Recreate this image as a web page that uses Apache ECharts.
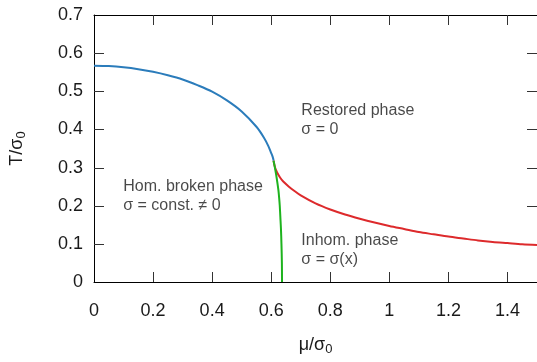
<!DOCTYPE html>
<html>
<head>
<meta charset="utf-8">
<script src="https://cdn.jsdelivr.net/npm/echarts@6/dist/echarts.min.js"></script>
<style>
  html, body { margin: 0; padding: 0; background: #fff; }
  #chart { width: 537px; height: 362px; }
</style>
</head>
<body>
<div id="chart"></div>
<script>
// phase boundaries: [mu/sigma0, T/sigma0]
var secondOrderLine = [
  [0, 0.567], [0.05, 0.566], [0.1, 0.563], [0.15, 0.558], [0.2, 0.551],
  [0.25, 0.542], [0.3, 0.531], [0.35, 0.516], [0.4, 0.499], [0.45, 0.476],
  [0.5, 0.447], [0.55, 0.407], [0.575, 0.379], [0.59, 0.357], [0.6, 0.338],
  [0.605, 0.328], [0.608, 0.318]
];
var inhomRestoredLine = [
  [0.608, 0.318], [0.613, 0.300], [0.62, 0.287], [0.63, 0.274], [0.64, 0.264],
  [0.66, 0.250], [0.68, 0.238], [0.7, 0.227], [0.75, 0.206], [0.8, 0.190],
  [0.85, 0.177], [0.9, 0.166], [0.95, 0.156], [1.0, 0.147], [1.05, 0.139],
  [1.1, 0.131], [1.15, 0.125], [1.2, 0.119], [1.25, 0.114], [1.3, 0.109],
  [1.35, 0.105], [1.4, 0.102], [1.45, 0.099], [1.5, 0.097]
];
var lifshitzLine = [
  [0.608, 0.318], [0.6125, 0.300], [0.617, 0.280], [0.621, 0.260],
  [0.6245, 0.240], [0.627, 0.220], [0.629, 0.200], [0.631, 0.170],
  [0.633, 0.140], [0.6347, 0.100], [0.6362, 0.050], [0.6366, 0.0]
];

// inward tick marks on all four sides of the frame
var xTicks = [0.2, 0.4, 0.6, 0.8, 1.0, 1.2, 1.4];
var yTicks = [0.1, 0.2, 0.3, 0.4, 0.5, 0.6];
var xMin = 0, xMax = 1.5, yMin = 0, yMax = 0.7;

var phaseNames = ['Restored phase\nσ = 0', 'Hom. broken phase\nσ = const. ≠ 0', 'Inhom. phase\nσ = σ(x)'];
var phaseAt = [[0.702, 0.424], [0.099, 0.224], [0.702, 0.0845]];

var font = 'Liberation Sans, Arial, Helvetica, sans-serif';
var ink = '#1a1a1a';

var chart = echarts.init(document.getElementById('chart'));

function lineSeries(data, color) {
  return {
    type: 'line',
    data: data,
    showSymbol: false,
    smooth: 0.3,
    lineStyle: { color: color, width: 2 },
    z: 3
  };
}

function nameStyle() {
  return {
    fontFamily: font, fontSize: 18, color: ink,
    rich: { sub: { fontFamily: font, fontSize: 13, color: ink, padding: [9, 0, 0, 0] } }
  };
}

var TICK = 10;
function tickLine(x1, y1, x2, y2) {
  return { type: 'line', shape: { x1: x1, y1: y1, x2: x2, y2: y2 }, style: { stroke: '#333', lineWidth: 1 } };
}

var series = [
  lineSeries(secondOrderLine, '#2b7cbb'),
  lineSeries(inhomRestoredLine, '#dd2a2c'),
  lineSeries(lifshitzLine, '#1eb31e'),
  {
    // bottom + top ticks
    type: 'custom',
    clip: false,
    silent: true,
    data: xTicks.map(function (v) { return [v, yMin]; }),
    renderItem: function (params, api) {
      var v = api.value(0);
      var b = api.coord([v, yMin]);
      var t = api.coord([v, yMax]);
      var x = Math.round(b[0]) + 0.5;
      return { type: 'group', children: [
        tickLine(x, b[1], x, b[1] - TICK),
        tickLine(x, t[1], x, t[1] + TICK)
      ] };
    }
  },
  {
    // left + right ticks
    type: 'custom',
    clip: false,
    silent: true,
    data: yTicks.map(function (v) { return [xMin, v]; }),
    renderItem: function (params, api) {
      var v = api.value(1);
      var l = api.coord([xMin, v]);
      var r = api.coord([xMax, v]);
      var y = Math.round(l[1]) + 0.5;
      return { type: 'group', children: [
        tickLine(l[0], y, l[0] + TICK, y),
        tickLine(r[0], y, r[0] - TICK, y)
      ] };
    }
  }
];

phaseNames.forEach(function (txt, i) {
  series.push({
    type: 'scatter',
    data: [phaseAt[i]],
    symbolSize: 0,
    silent: true,
    label: {
      show: true,
      position: 'right',
      distance: 0,
      formatter: txt,
      fontFamily: font,
      fontSize: 16,
      lineHeight: 19,
      color: ink
    }
  });
});

chart.setOption({
  animation: false,
  grid: { left: 93, right: -1, top: 15, bottom: 80 },
  xAxis: [{
    type: 'value',
    min: xMin, max: xMax, interval: 0.2,
    name: 'μ/σ{sub|0}',
    nameLocation: 'middle',
    nameGap: 52,
    nameTextStyle: nameStyle(),
    axisLine: { show: true, lineStyle: { color: '#000', width: 1 } },
    axisTick: { show: false },
    axisLabel: { margin: 20, fontFamily: font, fontSize: 18, color: ink, showMaxLabel: false },
    splitLine: { show: false }
  }, {
    type: 'value',
    position: 'top',
    min: xMin, max: xMax, interval: 0.2,
    axisLine: { show: true, onZero: false, lineStyle: { color: '#000', width: 1 } },
    axisTick: { show: false },
    axisLabel: { show: false },
    splitLine: { show: false }
  }],
  yAxis: [{
    type: 'value',
    min: yMin, max: yMax, interval: 0.1,
    name: 'T/σ{sub|0}',
    nameLocation: 'middle',
    nameGap: 66,
    nameRotate: 90,
    nameTextStyle: nameStyle(),
    axisLine: { show: true, lineStyle: { color: '#000', width: 1 } },
    axisTick: { show: false },
    axisLabel: {
      margin: 11, fontFamily: font, fontSize: 18, color: ink,
      formatter: function (v) { return String(Math.round(v * 10) / 10); }
    },
    splitLine: { show: false }
  }, {
    type: 'value',
    position: 'right',
    min: yMin, max: yMax, interval: 0.1,
    axisLine: { show: true, onZero: false, lineStyle: { color: '#000', width: 1 } },
    axisTick: { show: false },
    axisLabel: { show: false },
    splitLine: { show: false }
  }],
  series: series
});
</script>
</body>
</html>
